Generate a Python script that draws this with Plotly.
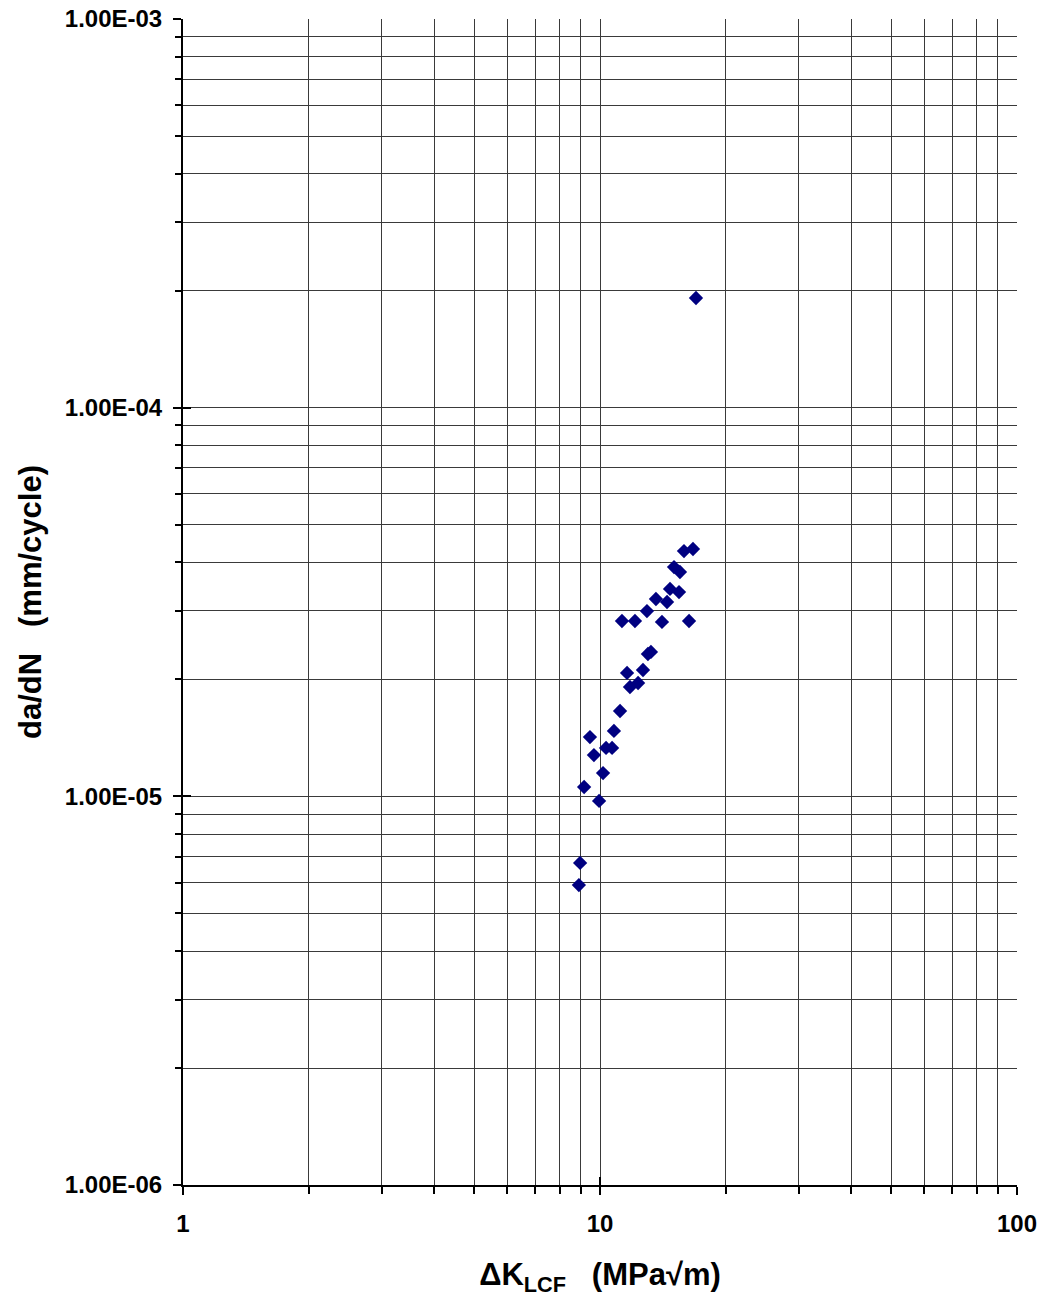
import plotly.graph_objects as go

# Crack growth rate vs. stress intensity factor range (LCF)
delta_k = [8.9, 8.96, 9.16, 9.46, 9.67, 9.95, 10.17, 10.34, 10.69, 10.8,
           11.17, 11.29, 11.61, 11.8, 12.34, 12.13, 12.68, 12.96, 13.03, 13.25,
           13.62, 14.08, 14.48, 14.72, 15.05, 15.55, 15.47, 15.9, 16.71, 16.35,
           16.99]
dadn = [5.91e-6, 6.74e-6, 1.057e-5, 1.421e-5, 1.277e-5, 9.73e-6, 1.148e-5, 1.332e-5, 1.332e-5, 1.473e-5,
        1.658e-5, 2.826e-5, 2.077e-5, 1.911e-5, 1.957e-5, 2.826e-5, 2.114e-5, 2.997e-5, 2.324e-5, 2.352e-5,
        3.219e-5, 2.81e-5, 3.162e-5, 3.416e-5, 3.89e-5, 3.777e-5, 3.354e-5, 4.277e-5, 4.329e-5, 2.826e-5,
        1.915e-4]

x_major = [1, 10, 100]
x_major_text = ["1", "10", "100"]
y_major = [1e-6, 1e-5, 1e-4, 1e-3]
y_major_text = ["1.00E-06", "1.00E-05", "1.00E-04", "1.00E-03"]

x_minor = [m * 10 ** e for e in range(0, 2) for m in range(2, 10)]
y_minor = [m * 10.0 ** e for e in range(-6, -3) for m in range(2, 10)]

FONT = "Liberation Sans, Arial, sans-serif"
GRID = "#3a3a3a"

fig = go.Figure()
fig.add_trace(go.Scatter(
    x=delta_k, y=dadn, mode="markers",
    marker=dict(symbol="diamond", size=11, color="#000080", line=dict(width=0)),
    showlegend=False,
))
# invisible trace so the overlay axes (crossing major ticks) are drawn
fig.add_trace(go.Scatter(x=[1], y=[1e-6], xaxis="x2", yaxis="y2",
                         mode="markers", marker=dict(opacity=0),
                         showlegend=False, hoverinfo="skip"))

fig.update_layout(
    width=1047, height=1304,
    margin=dict(l=183, r=30, t=19, b=119),
    paper_bgcolor="white", plot_bgcolor="white",
    font=dict(family=FONT, color="black"),
    xaxis=dict(
        type="log", range=[0, 2], automargin=False,
        tickmode="array", tickvals=x_major, ticktext=x_major_text,
        tickfont=dict(size=24, family=FONT, weight="bold"),
        ticks="outside", ticklen=8, tickwidth=2, tickcolor="black",
        ticklabelstandoff=8,
        showgrid=True, gridcolor=GRID, gridwidth=1,
        minor=dict(tickmode="array", tickvals=x_minor, ticks="outside",
                   ticklen=7, tickwidth=2, tickcolor="black",
                   showgrid=True, gridcolor=GRID, gridwidth=1),
        showline=True, linecolor="black", linewidth=2, mirror=False,
        zeroline=False,
        title=dict(text="ΔK<sub>LCF</sub>\u00a0\u00a0\u00a0(MPa√m)",
                   font=dict(size=31, family=FONT, weight="bold"), standoff=28),
    ),
    yaxis=dict(
        type="log", range=[-6, -3], automargin=False,
        tickmode="array", tickvals=y_major, ticktext=y_major_text,
        tickfont=dict(size=24, family=FONT, weight="bold"),
        ticks="outside", ticklen=8, tickwidth=2, tickcolor="black",
        ticklabelstandoff=6,
        showgrid=True, gridcolor=GRID, gridwidth=1,
        minor=dict(tickmode="array", tickvals=y_minor, ticks="outside",
                   ticklen=6, tickwidth=2, tickcolor="black",
                   showgrid=True, gridcolor=GRID, gridwidth=1),
        showline=True, linecolor="black", linewidth=2, mirror=False,
        zeroline=False,
        title=dict(text="da/dN\u00a0\u00a0\u00a0(mm/cycle)",
                   font=dict(size=31, family=FONT, weight="bold"), standoff=14),
    ),
    xaxis2=dict(type="log", range=[0, 2], overlaying="x", anchor="y2",
                automargin=False,
                tickmode="array", tickvals=x_major, ticks="inside", ticklen=8,
                tickwidth=2, tickcolor="black", showticklabels=False,
                showgrid=False, zeroline=False, showline=False),
    yaxis2=dict(type="log", range=[-6, -3], overlaying="y", anchor="x2",
                automargin=False,
                tickmode="array", tickvals=y_major, ticks="inside", ticklen=8,
                tickwidth=2, tickcolor="black", showticklabels=False,
                showgrid=False, zeroline=False, showline=False),
)

fig.write_html("out.html")
